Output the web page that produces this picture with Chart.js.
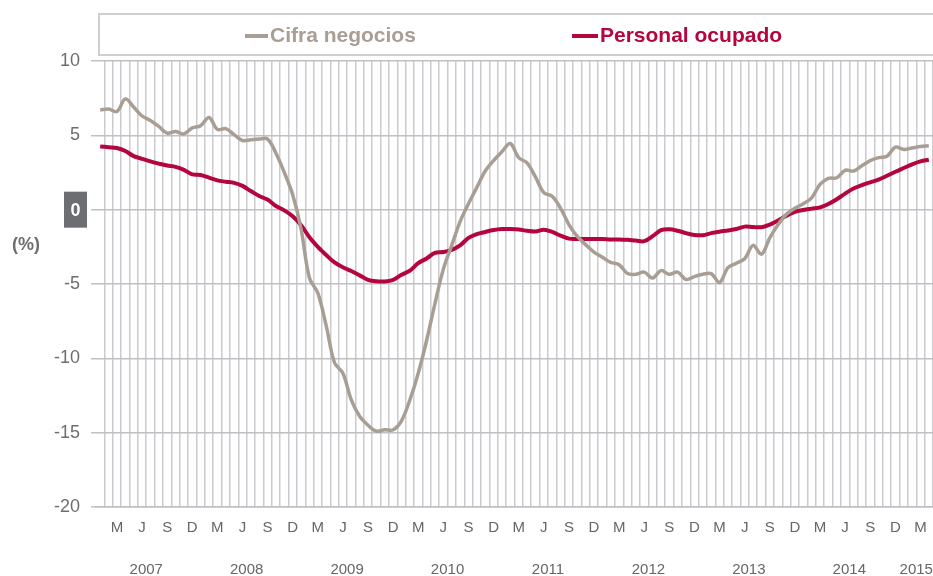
<!DOCTYPE html>
<html>
<head>
<meta charset="utf-8">
<script src="https://cdn.jsdelivr.net/npm/chart.js@4.4.1/dist/chart.umd.min.js"></script>
<style>
  body { margin: 0; background: #fff; }
  #wrap { width: 933px; height: 576px; position: relative; }
</style>
</head>
<body>
<div id="wrap"><canvas id="chart"></canvas></div>
<script>
// Monthly series, Jan 2007 .. Apr 2015
const startYear = 2007;
const monthCount = 100;
const years = ['2007', '2008', '2009', '2010', '2011', '2012', '2013', '2014', '2015'];
// Only these months get a letter under the axis
const quarterLetters = { 3: 'M', 6: 'J', 9: 'S', 12: 'D' };

const months = [];
for (let i = 0; i < monthCount; i++) {
    const y = startYear + Math.floor(i / 12);
    const m = (i % 12) + 1;
    months.push(y + '-' + String(m).padStart(2, '0'));
}

const cifraNegocios = [
    6.7, 6.77, 6.6, 7.45, 6.9, 6.3, 6.0, 5.6, 5.15, 5.25, 5.1, 5.5,
    5.65, 6.2, 5.4, 5.45, 5.05, 4.65, 4.7, 4.75, 4.75, 3.8, 2.5, 1.0,
    -1.3, -4.6, -5.6, -7.8, -10.3, -11.0, -12.8, -13.9, -14.5, -14.9, -14.8, -14.8,
    -14.2, -12.8, -11.0, -8.8, -6.3, -4.0, -2.4, -0.8, 0.4, 1.5, 2.6, 3.3,
    3.9, 4.45, 3.5, 3.15, 2.2, 1.15, 0.9, 0.1, -1.0, -1.8, -2.35, -2.85,
    -3.2, -3.55, -3.7, -4.3, -4.35, -4.2, -4.6, -4.1, -4.35, -4.2, -4.7, -4.5,
    -4.35, -4.3, -4.9, -3.9, -3.6, -3.3, -2.4, -3.0, -1.9, -1.0, -0.3, 0.1,
    0.4, 0.8, 1.7, 2.1, 2.15, 2.65, 2.6, 2.95, 3.3, 3.5, 3.6, 4.2,
    4.05, 4.15, 4.25, 4.3
];

const personalOcupado = [
    4.25, 4.2, 4.15, 3.95, 3.6, 3.42, 3.25, 3.1, 2.97, 2.88, 2.68, 2.37,
    2.33, 2.15, 1.97, 1.88, 1.8, 1.6, 1.25, 0.92, 0.68, 0.25, -0.05, -0.45,
    -1.05, -1.85, -2.5, -3.05, -3.55, -3.87, -4.13, -4.42, -4.72, -4.82, -4.83, -4.72,
    -4.38, -4.1, -3.6, -3.28, -2.9, -2.85, -2.7, -2.4, -1.9, -1.65, -1.5, -1.37,
    -1.3, -1.3, -1.33, -1.42, -1.47, -1.35, -1.5, -1.75, -1.95, -1.97, -1.97, -1.97,
    -1.97, -2.0, -2.0, -2.03, -2.08, -2.12, -1.78, -1.38, -1.32, -1.42, -1.58, -1.7,
    -1.72, -1.58, -1.48, -1.4, -1.3, -1.14, -1.17, -1.18, -1.0, -0.73, -0.4, -0.15,
    -0.02, 0.07, 0.15, 0.38, 0.7, 1.08, 1.42, 1.65, 1.84, 2.02, 2.28, 2.55,
    2.8, 3.05, 3.25, 3.36
];

const GRAY = '#a89e94';
const RED = '#b4053c';
const TEXT = '#6d6e71';
const FONT = "'Liberation Sans', Arial, sans-serif";

// Draws the boxed legend, the year row, the (%) title and the boxed zero
const extras = {
    id: 'extras',
    afterDraw(chart) {
        const ctx = chart.ctx;
        const xs = chart.scales.x;
        const ys = chart.scales.y;
        ctx.save();

        // legend box
        ctx.strokeStyle = '#cfcfcf';
        ctx.lineWidth = 2;
        ctx.strokeRect(99, 14, 840, 41);
        ctx.font = 'bold 21px ' + FONT;
        ctx.textBaseline = 'middle';
        ctx.textAlign = 'left';
        ctx.lineWidth = 4;
        ctx.strokeStyle = GRAY;
        ctx.beginPath(); ctx.moveTo(245, 36); ctx.lineTo(268, 36); ctx.stroke();
        ctx.fillStyle = GRAY;
        ctx.fillText('Cifra negocios', 270, 36);
        ctx.strokeStyle = RED;
        ctx.beginPath(); ctx.moveTo(572, 36); ctx.lineTo(598, 36); ctx.stroke();
        ctx.fillStyle = RED;
        ctx.fillText('Personal ocupado', 600, 36);

        // year labels, centred under their months
        ctx.font = '15px ' + FONT;
        ctx.fillStyle = '#666666';
        ctx.textAlign = 'center';
        years.forEach(function (yr) {
            const idx = [];
            months.forEach(function (m, i) { if (m.startsWith(yr)) idx.push(i); });
            const mid = (xs.getPixelForValue(idx[0]) + xs.getPixelForValue(idx[idx.length - 1])) / 2;
            ctx.fillText(yr, mid, 570);
        });

        // (%) title
        ctx.font = 'bold 18px ' + FONT;
        ctx.fillStyle = TEXT;
        ctx.fillText('(%)', 26, 245);

        // zero label in a dark box
        const y0 = ys.getPixelForValue(0);
        ctx.fillStyle = TEXT;
        ctx.fillRect(64, y0 - 18, 23, 36);
        ctx.fillStyle = '#ffffff';
        ctx.fillText('0', 75.5, y0 + 1);

        ctx.restore();
    }
};

new Chart(document.getElementById('chart').getContext('2d'), {
    type: 'line',
    data: {
        labels: months,
        datasets: [
            {
                label: 'Cifra negocios',
                data: cifraNegocios,
                borderColor: GRAY,
                borderWidth: 3.5,
                pointRadius: 0,
                tension: 0.35,
                fill: false
            },
            {
                label: 'Personal ocupado',
                data: personalOcupado,
                borderColor: RED,
                borderWidth: 4,
                pointRadius: 0,
                tension: 0.35,
                fill: false
            }
        ]
    },
    options: {
        responsive: true,
        maintainAspectRatio: false,
        animation: false,
        layout: { padding: { top: 61, left: 0, right: 0, bottom: 0 } },
        scales: {
            x: {
                offset: true,
                afterFit: function (scale) {
                    scale.height = 69;
                    // no extra side padding, plot runs to the canvas edge
                    scale.paddingLeft = 0;
                    scale.paddingRight = 0;
                },
                grid: {
                    offset: true,
                    drawTicks: false,
                    lineWidth: 1.5,
                    color: function (c) { return c.index === 0 ? 'rgba(0,0,0,0)' : '#cbcbcf'; }
                },
                border: { display: true, color: '#bfbfc3', width: 1.5 },
                ticks: {
                    autoSkip: false,
                    maxRotation: 0,
                    padding: 12,
                    color: '#666666',
                    font: { family: FONT, size: 15 },
                    callback: function (v, i) {
                        const m = parseInt(months[i].slice(5), 10);
                        return quarterLetters[m] || '';
                    }
                }
            },
            y: {
                min: -20,
                max: 10,
                afterFit: function (scale) { scale.width = 96; },
                grid: {
                    color: '#c0c0c4',
                    lineWidth: 1.5,
                    drawTicks: true,
                    tickLength: 5
                },
                border: { display: false },
                ticks: {
                    stepSize: 5,
                    padding: 11,
                    color: TEXT,
                    font: { family: FONT, size: 18 },
                    callback: function (v) { return v === 0 ? '' : String(v); }
                }
            }
        },
        plugins: {
            legend: { display: false },
            tooltip: { enabled: false }
        }
    },
    plugins: [extras]
});
</script>
</body>
</html>
